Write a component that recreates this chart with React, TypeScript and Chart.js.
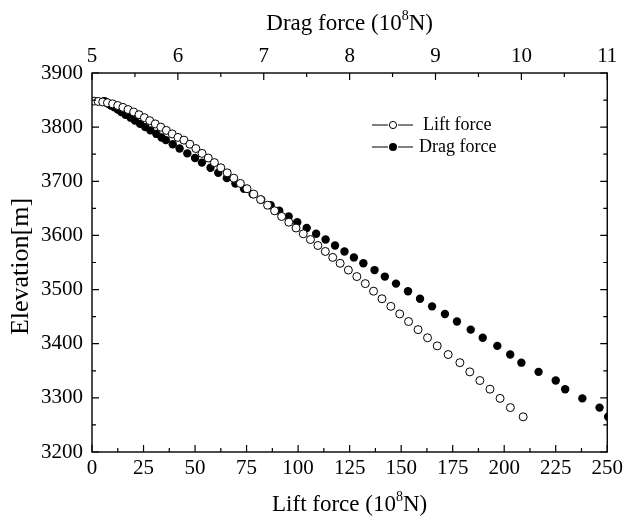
import React, { useEffect, useRef } from 'react';
import { Chart, registerables } from 'chart.js';

Chart.register(...registerables);

// Elevation (m) shared by both series
const elevation = [
  3848, 3847.5, 3846.5, 3845, 3843, 3840, 3836.5, 3832.5, 3828, 3823,
  3817.5, 3812, 3806, 3800, 3794, 3787.5, 3781, 3776, 3768.5, 3760.5,
  3751.5, 3743, 3734.5, 3725, 3715.6, 3705.8, 3696, 3686.3, 3676.3, 3666.2,
  3655.8, 3645.5, 3635, 3624.4, 3613.7, 3603, 3592.4, 3581.4, 3570.4, 3559.4,
  3548.5, 3536, 3524, 3511, 3497, 3483, 3469, 3455, 3441, 3426,
  3411, 3396, 3380, 3365, 3348, 3332, 3316, 3299, 3282, 3265,
];

// Lift force (10^8 N), bottom axis
const liftForce = [
  1, 3, 5.2, 7.5, 10, 12.5, 15, 17.5, 20.2, 22.8,
  25.4, 28, 30.7, 33.4, 36.1, 38.9, 41.7, 44.6, 47.5, 50.4,
  53.4, 56.4, 59.4, 62.5, 65.6, 68.8, 72, 75.2, 78.5, 81.8,
  85.2, 88.6, 92, 95.5, 99, 102.5, 106, 109.6, 113.2, 116.8,
  120.4, 124.4, 128.5, 132.6, 136.6, 140.7, 145, 149.3, 153.6, 158.2,
  162.8, 167.5, 172.8, 178.5, 183.3, 188.2, 193.1, 198, 203, 209.2,
];

// Drag force (10^8 N), top axis
const dragForce = [
  5.14, 5.15, 5.16, 5.17, 5.19, 5.22, 5.26, 5.3, 5.34, 5.39,
  5.45, 5.5, 5.56, 5.62, 5.68, 5.75, 5.81, 5.86, 5.94, 6.02,
  6.11, 6.2, 6.28, 6.38, 6.47, 6.57, 6.67, 6.77, 6.87, 6.97,
  7.08, 7.18, 7.29, 7.39, 7.5, 7.61, 7.72, 7.83, 7.94, 8.05,
  8.16, 8.29, 8.41, 8.54, 8.68, 8.82, 8.96, 9.11, 9.25, 9.41,
  9.55, 9.72, 9.87, 10.0, 10.2, 10.4, 10.51, 10.71, 10.91, 11.01,
];

const liftTicks = [0, 25, 50, 75, 100, 125, 150, 175, 200, 225, 250];
const dragTicks = [5, 6, 7, 8, 9, 10, 11];
const elevTicks = [3200, 3300, 3400, 3500, 3600, 3700, 3800, 3900];

const seriesNames = ['Lift force', 'Drag force'];
const liftTitle = ['Lift force (10', '8', 'N)'];
const dragTitle = ['Drag force (10', '8', 'N)'];
const elevTitle = 'Elevation[m]';

const SERIF = '"Liberation Serif", "Times New Roman", serif';

function drawSupTitle(ctx: CanvasRenderingContext2D, parts: string[], cx: number, cy: number, size: number) {
  const big = `${size}px ${SERIF}`;
  const small = `${Math.round(size * 0.62)}px ${SERIF}`;
  ctx.font = big;
  const w1 = ctx.measureText(parts[0]).width;
  const w3 = ctx.measureText(parts[2]).width;
  ctx.font = small;
  const w2 = ctx.measureText(parts[1]).width;
  const total = w1 + w2 + w3;
  let x = cx - total / 2;
  ctx.textBaseline = 'alphabetic';
  ctx.textAlign = 'left';
  const base = cy + size * 0.33;
  ctx.font = big;
  ctx.fillText(parts[0], x, base);
  x += w1;
  ctx.font = small;
  ctx.fillText(parts[1], x, base - size * 0.4);
  x += w2;
  ctx.font = big;
  ctx.fillText(parts[2], x, base);
}

const decorPlugin = {
  id: 'decor',
  afterDraw(chart: any) {
    const { ctx, chartArea } = chart;
    const { left, right, top, bottom } = chartArea;
    const xs = chart.scales.x;
    const x2 = chart.scales.x2;
    const ys = chart.scales.y;
    ctx.save();
    ctx.strokeStyle = '#000';
    ctx.fillStyle = '#000';
    ctx.lineWidth = 1.4;
    ctx.strokeRect(left, top, right - left, bottom - top);

    const major = 7;
    const minor = 4;
    ctx.lineWidth = 1.2;
    ctx.beginPath();
    for (let i = 0; i < liftTicks.length; i++) {
      const v = liftTicks[i];
      const px = xs.getPixelForValue(v);
      ctx.moveTo(px, bottom);
      ctx.lineTo(px, bottom - major);
      if (i < liftTicks.length - 1) {
        const m = xs.getPixelForValue((v + liftTicks[i + 1]) / 2);
        ctx.moveTo(m, bottom);
        ctx.lineTo(m, bottom - minor);
      }
    }
    for (let i = 0; i < dragTicks.length; i++) {
      const v = dragTicks[i];
      const px = x2.getPixelForValue(v);
      ctx.moveTo(px, top);
      ctx.lineTo(px, top + major);
      if (i < dragTicks.length - 1) {
        const m = x2.getPixelForValue((v + dragTicks[i + 1]) / 2);
        ctx.moveTo(m, top);
        ctx.lineTo(m, top + minor);
      }
    }
    for (let i = 0; i < elevTicks.length; i++) {
      const v = elevTicks[i];
      const py = ys.getPixelForValue(v);
      ctx.moveTo(left, py);
      ctx.lineTo(left + major, py);
      ctx.moveTo(right, py);
      ctx.lineTo(right - major, py);
      if (i < elevTicks.length - 1) {
        const m = ys.getPixelForValue((v + elevTicks[i + 1]) / 2);
        ctx.moveTo(left, m);
        ctx.lineTo(left + minor, m);
        ctx.moveTo(right, m);
        ctx.lineTo(right - minor, m);
      }
    }
    ctx.stroke();

    const cx = (left + right) / 2;
    drawSupTitle(ctx, liftTitle, cx, 503, 23);
    drawSupTitle(ctx, dragTitle, cx, 22, 23);
    ctx.save();
    ctx.translate(21, (top + bottom) / 2 + 4);
    ctx.rotate(-Math.PI / 2);
    ctx.font = `26px ${SERIF}`;
    ctx.textAlign = 'center';
    ctx.textBaseline = 'middle';
    ctx.fillText(elevTitle, 0, 0);
    ctx.restore();

    ctx.lineWidth = 1;
    ctx.font = `18px ${SERIF}`;
    ctx.textBaseline = 'middle';
    ctx.textAlign = 'left';
    const rows = [
      { y: 125, filled: false, tx: 423 },
      { y: 147, filled: true, tx: 419 },
    ];
    rows.forEach((r, i) => {
      ctx.beginPath();
      ctx.moveTo(372, r.y);
      ctx.lineTo(388, r.y);
      ctx.moveTo(398, r.y);
      ctx.lineTo(413, r.y);
      ctx.stroke();
      ctx.beginPath();
      ctx.arc(393, r.y, r.filled ? 4 : 3.6, 0, Math.PI * 2);
      if (r.filled) {
        ctx.fill();
      } else {
        ctx.fillStyle = '#fff';
        ctx.fill();
        ctx.fillStyle = '#000';
        ctx.stroke();
      }
      ctx.fillText(seriesNames[i], r.tx, r.y);
    });
    ctx.restore();
  },
};

export default function App() {
  const ref = useRef<HTMLCanvasElement | null>(null);
  useEffect(() => {
    if (!ref.current) return;
    const tickFont = { family: SERIF, size: 21 };
    const plain = (v: any) => String(v);
    const chart = new Chart(ref.current, {
      type: 'scatter',
      data: {
        datasets: [
          {
            label: seriesNames[0],
            data: elevation.map((e, i) => ({ x: liftForce[i], y: e })),
            xAxisID: 'x',
            yAxisID: 'y',
            pointRadius: 4,
            pointBorderWidth: 1,
            pointBackgroundColor: '#fff',
            pointBorderColor: '#000',
            showLine: false,
            clip: 0,
            order: 0,
          },
          {
            label: seriesNames[1],
            data: elevation.map((e, i) => ({ x: dragForce[i], y: e })),
            xAxisID: 'x2',
            yAxisID: 'y',
            pointRadius: 4.2,
            pointBorderWidth: 0,
            pointBackgroundColor: '#000',
            pointBorderColor: '#000',
            showLine: false,
            clip: 0,
            order: 1,
          },
        ],
      },
      options: {
        responsive: false,
        animation: false,
        devicePixelRatio: 1,
        layout: { padding: { right: 18, left: 0, top: 0, bottom: 0 } },
        plugins: { legend: { display: false }, tooltip: { enabled: false } },
        scales: {
          x: {
            type: 'linear',
            position: 'bottom',
            min: 0,
            max: 250,
            afterBuildTicks: (s: any) => { s.ticks = liftTicks.map((v) => ({ value: v })); },
            ticks: { font: tickFont, color: '#000', padding: 4, autoSkip: false, maxRotation: 0, callback: plain },
            grid: { display: false, drawTicks: false },
            border: { display: false },
            afterFit: (s: any) => { s.height = 65; },
          },
          x2: {
            type: 'linear',
            position: 'top',
            min: 5,
            max: 11,
            afterBuildTicks: (s: any) => { s.ticks = dragTicks.map((v) => ({ value: v })); },
            ticks: { font: tickFont, color: '#000', padding: 4, autoSkip: false, maxRotation: 0, callback: plain },
            grid: { display: false, drawTicks: false },
            border: { display: false },
            afterFit: (s: any) => { s.height = 73; },
          },
          y: {
            type: 'linear',
            position: 'left',
            min: 3200,
            max: 3900,
            afterBuildTicks: (s: any) => { s.ticks = elevTicks.map((v) => ({ value: v })); },
            ticks: { font: tickFont, color: '#000', padding: 9, autoSkip: false, callback: plain },
            grid: { display: false, drawTicks: false },
            border: { display: false },
            afterFit: (s: any) => { s.width = 92; },
          },
        },
      },
      plugins: [decorPlugin],
    });
    return () => chart.destroy();
  }, []);

  return (
    <div style={{ position: 'fixed', left: 0, top: 0, width: 627, height: 517, background: '#fff' }}>
      <canvas ref={ref} width={627} height={517} style={{ width: 627, height: 517, display: 'block' }} />
    </div>
  );
}
